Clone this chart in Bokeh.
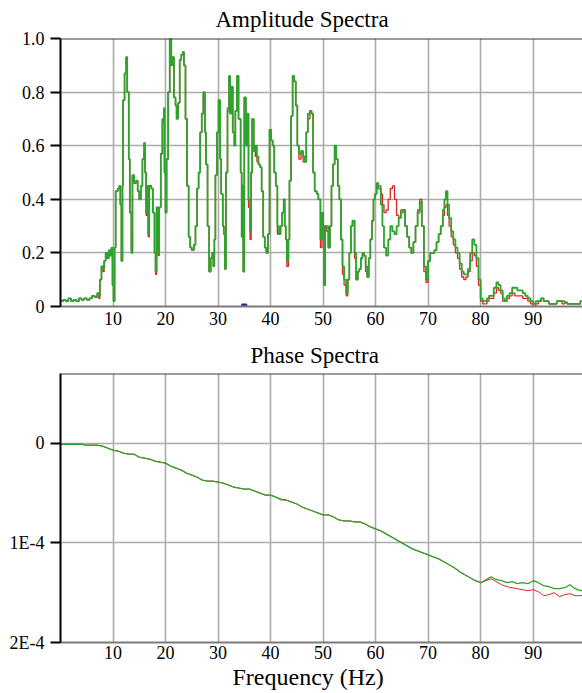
from bokeh.plotting import figure
from bokeh.layouts import column
from bokeh.models import Range1d, FixedTicker, Span, Title
from bokeh.embed import file_html
from bokeh.resources import INLINE

# ---- Amplitude spectra (normalised), stepped, frequencies in Hz ----
amp_freq = [
    0.0, 0.5, 1.0, 1.5, 2.0, 2.5, 3.0, 3.5, 4.0, 4.5, 5.0, 5.5, 6.0, 6.5, 7.0, 7.3, 7.5, 7.8,
    8.1, 8.3, 8.6, 8.9, 9.2, 9.5, 9.7, 9.9, 10.1, 10.3, 10.5, 10.9, 11.2, 11.4, 11.6, 11.8,
    11.9, 12.2, 12.5, 12.7, 13.0, 13.2, 13.5, 13.7, 14.0, 14.4, 14.7, 15.0, 15.3, 15.6, 15.9,
    16.1, 16.3, 16.5, 16.7, 16.9, 17.3, 17.6, 17.9, 18.1, 18.3, 18.6, 18.8, 19.1, 19.4, 19.7,
    19.8, 20.0, 20.2, 20.5, 20.8, 21.1, 21.3, 21.6, 21.9, 22.1, 22.4, 22.7, 23.0, 23.3, 23.5,
    23.8, 24.1, 24.4, 24.7, 25.0, 25.4, 25.7, 26.0, 26.3, 26.6, 26.9, 27.2, 27.5, 27.7, 28.0,
    28.3, 28.6, 28.9, 29.1, 29.3, 29.5, 29.8, 30.1, 30.4, 30.6, 30.9, 31.1, 31.3, 31.5, 31.8,
    32.1, 32.3, 32.5, 32.8, 33.1, 33.3, 33.6, 33.9, 34.1, 34.3, 34.5, 34.7, 34.8, 35.0, 35.3,
    35.5, 35.8, 36.1, 36.3, 36.5, 36.8, 37.1, 37.4, 37.7, 38.0, 38.3, 38.6, 38.9, 39.2, 39.5,
    39.8, 40.1, 40.4, 40.7, 41.0, 41.3, 41.6, 41.9, 42.2, 42.5, 42.7, 42.9, 43.1, 43.4, 43.6,
    43.9, 44.2, 44.5, 44.8, 45.1, 45.4, 45.8, 46.2, 46.5, 46.8, 47.1, 47.5, 47.8, 48.1, 48.4,
    48.8, 49.1, 49.5, 49.8, 50.0, 50.2, 50.4, 50.7, 51.0, 51.3, 51.6, 51.9, 52.2, 52.5, 52.8,
    53.1, 53.4, 53.7, 54.0, 54.4, 54.7, 55.0, 55.3, 55.6, 56.0, 56.3, 56.6, 56.9, 57.2, 57.5,
    57.8, 58.1, 58.4, 58.7, 59.0, 59.3, 59.6, 59.9, 60.2, 60.5, 61.0, 61.3, 61.6, 62.0, 62.4,
    62.8, 63.2, 63.6, 64.0, 64.4, 64.8, 65.2, 65.6, 66.0, 66.4, 66.8, 67.2, 67.6, 68.0, 68.4,
    68.8, 69.2, 69.6, 70.0, 70.4, 70.8, 71.2, 71.6, 72.0, 72.4, 72.8, 73.1, 73.4, 73.7, 74.0,
    74.4, 74.8, 75.2, 75.6, 76.0, 76.4, 76.8, 77.2, 77.6, 78.0, 78.4, 78.8, 79.2, 79.6, 80.0,
    80.4, 80.8, 81.2, 81.6, 82.0, 82.5, 83.0, 83.4, 83.8, 84.2, 84.6, 85.0, 85.5, 86.0, 86.5,
    87.0, 87.5, 88.0, 88.5, 89.0, 89.5, 90.0, 90.5, 91.0, 91.5, 92.0, 92.5, 93.0, 93.5, 94.0,
    94.5, 95.0, 95.5, 96.0, 96.5, 97.0, 98.0, 99.0, 100.0,
]
amp_green = [
    0.02, 0.025, 0.02, 0.03, 0.02, 0.025, 0.02, 0.03, 0.025, 0.03, 0.025, 0.03, 0.04, 0.035, 0.05, 0.04, 0.10, 0.15,
    0.14, 0.17, 0.20, 0.18, 0.21, 0.19, 0.22, 0.08, 0.02, 0.22, 0.43, 0.44, 0.45, 0.38, 0.17, 0.45,
    0.77, 0.87, 0.93, 0.80, 0.55, 0.35, 0.20, 0.49, 0.46, 0.47, 0.43, 0.40, 0.45, 0.55, 0.61,
    0.50, 0.35, 0.45, 0.27, 0.45, 0.44, 0.35, 0.20, 0.13, 0.37, 0.20, 0.37, 0.57, 0.70, 0.74,
    0.50, 0.35, 0.55, 0.80, 1.00, 0.90, 0.93, 0.78, 0.75, 0.70, 0.76, 0.92, 0.94, 0.95, 0.90,
    0.70, 0.45, 0.26, 0.22, 0.21, 0.23, 0.30, 0.44, 0.50, 0.65, 0.72, 0.80, 0.65, 0.53, 0.30,
    0.13, 0.18, 0.20, 0.15, 0.25, 0.49, 0.65, 0.77, 0.55, 0.42, 0.30, 0.27, 0.14, 0.50, 0.74,
    0.86, 0.72, 0.82, 0.65, 0.60, 0.73, 0.86, 0.70, 0.70, 0.50, 0.26, 0.45, 0.13, 0.78, 0.60,
    0.72, 0.40, 0.28, 0.50, 0.70, 0.58, 0.60, 0.56, 0.53, 0.52, 0.43, 0.26, 0.22, 0.20, 0.27,
    0.66, 0.62, 0.60, 0.50, 0.45, 0.30, 0.27, 0.30, 0.35, 0.40, 0.30, 0.25, 0.17, 0.25, 0.47,
    0.71, 0.86, 0.84, 0.75, 0.60, 0.57, 0.58, 0.56, 0.54, 0.65, 0.72, 0.73, 0.72, 0.50, 0.43,
    0.42, 0.40, 0.25, 0.35, 0.30, 0.08, 0.30, 0.30, 0.22, 0.30, 0.45, 0.53, 0.60, 0.55, 0.45,
    0.40, 0.25, 0.15, 0.10, 0.05, 0.10, 0.20, 0.30, 0.32, 0.20, 0.10, 0.13, 0.14, 0.18, 0.20,
    0.19, 0.15, 0.11, 0.18, 0.25, 0.32, 0.40, 0.42, 0.46, 0.44, 0.38, 0.30, 0.22, 0.19, 0.25,
    0.30, 0.28, 0.27, 0.30, 0.33, 0.35, 0.36, 0.30, 0.26, 0.22, 0.20, 0.24, 0.30, 0.35, 0.39,
    0.30, 0.15, 0.10, 0.17, 0.20, 0.20, 0.21, 0.24, 0.27, 0.30, 0.36, 0.40, 0.43, 0.38, 0.33,
    0.28, 0.25, 0.22, 0.20, 0.16, 0.13, 0.12, 0.12, 0.14, 0.20, 0.25, 0.23, 0.18, 0.10, 0.03,
    0.02, 0.02, 0.03, 0.04, 0.04, 0.07, 0.09, 0.08, 0.06, 0.03, 0.02, 0.04, 0.05, 0.07, 0.07,
    0.06, 0.06, 0.05, 0.04, 0.03, 0.02, 0.01, 0.02, 0.02, 0.03, 0.02, 0.02, 0.01, 0.01, 0.01,
    0.02, 0.02, 0.02, 0.015, 0.01, 0.01, 0.01, 0.02, 0.02,
]
amp_red = [
    0.02, 0.025, 0.02, 0.03, 0.02, 0.025, 0.02, 0.03, 0.025, 0.03, 0.025, 0.03, 0.04, 0.035, 0.05, 0.03, 0.10, 0.15,
    0.13, 0.17, 0.20, 0.18, 0.20, 0.19, 0.22, 0.08, 0.02, 0.22, 0.43, 0.44, 0.45, 0.38, 0.17, 0.45,
    0.77, 0.87, 0.93, 0.80, 0.55, 0.35, 0.21, 0.49, 0.46, 0.47, 0.43, 0.40, 0.45, 0.55, 0.58,
    0.50, 0.34, 0.45, 0.26, 0.45, 0.44, 0.35, 0.20, 0.12, 0.37, 0.19, 0.37, 0.57, 0.69, 0.74,
    0.50, 0.35, 0.55, 0.80, 1.00, 0.90, 0.93, 0.78, 0.75, 0.72, 0.76, 0.92, 0.94, 0.95, 0.90,
    0.70, 0.45, 0.26, 0.22, 0.21, 0.23, 0.30, 0.44, 0.50, 0.65, 0.72, 0.79, 0.65, 0.53, 0.30,
    0.13, 0.18, 0.20, 0.15, 0.25, 0.49, 0.65, 0.77, 0.55, 0.42, 0.30, 0.27, 0.14, 0.50, 0.73,
    0.86, 0.72, 0.82, 0.65, 0.60, 0.73, 0.86, 0.70, 0.70, 0.50, 0.26, 0.45, 0.13, 0.78, 0.60,
    0.72, 0.37, 0.25, 0.50, 0.70, 0.58, 0.56, 0.54, 0.53, 0.52, 0.43, 0.26, 0.22, 0.20, 0.27,
    0.66, 0.62, 0.60, 0.50, 0.45, 0.27, 0.27, 0.30, 0.35, 0.40, 0.30, 0.25, 0.15, 0.25, 0.47,
    0.71, 0.86, 0.84, 0.75, 0.60, 0.55, 0.58, 0.54, 0.54, 0.65, 0.70, 0.73, 0.72, 0.50, 0.43,
    0.42, 0.40, 0.22, 0.35, 0.30, 0.08, 0.30, 0.28, 0.22, 0.30, 0.45, 0.53, 0.58, 0.55, 0.45,
    0.40, 0.25, 0.12, 0.08, 0.04, 0.10, 0.20, 0.30, 0.32, 0.18, 0.10, 0.13, 0.14, 0.18, 0.20,
    0.19, 0.13, 0.11, 0.18, 0.25, 0.32, 0.40, 0.42, 0.46, 0.45, 0.42, 0.38, 0.35, 0.36, 0.40,
    0.44, 0.45, 0.40, 0.34, 0.33, 0.36, 0.36, 0.30, 0.26, 0.22, 0.20, 0.24, 0.30, 0.36, 0.40,
    0.30, 0.13, 0.09, 0.17, 0.20, 0.20, 0.21, 0.24, 0.27, 0.30, 0.34, 0.37, 0.38, 0.34, 0.30,
    0.26, 0.23, 0.20, 0.18, 0.14, 0.11, 0.10, 0.11, 0.13, 0.17, 0.20, 0.19, 0.15, 0.08, 0.02,
    0.01, 0.01, 0.02, 0.03, 0.03, 0.05, 0.07, 0.06, 0.05, 0.02, 0.02, 0.03, 0.04, 0.05, 0.04,
    0.04, 0.04, 0.03, 0.03, 0.02, 0.01, 0.00, 0.01, 0.02, 0.03, 0.02, 0.02, 0.01, 0.01, 0.01,
    0.02, 0.02, 0.01, 0.015, 0.01, 0.01, 0.01, 0.02, 0.02,
]

# ---- Phase spectra, in units of 1E-4 (axis grows downward) ----
phase_freq = list(range(0, 101))
phase_green = [
    0.01, 0.01, 0.01, 0.01, 0.01, 0.02, 0.02, 0.02, 0.03, 0.05,
    0.07, 0.08, 0.10, 0.11, 0.11, 0.14, 0.15, 0.16, 0.18, 0.19,
    0.20, 0.23, 0.25, 0.27, 0.30, 0.32, 0.34, 0.37, 0.38, 0.38,
    0.39, 0.40, 0.42, 0.44, 0.45, 0.46, 0.46, 0.48, 0.50, 0.52,
    0.52, 0.54, 0.56, 0.57, 0.59, 0.61, 0.64, 0.66, 0.68, 0.70,
    0.72, 0.72, 0.74, 0.77, 0.78, 0.78, 0.79, 0.79, 0.81, 0.84,
    0.86, 0.88, 0.91, 0.94, 0.97, 1.00, 1.03, 1.06, 1.08, 1.10,
    1.12, 1.14, 1.16, 1.19, 1.22, 1.25, 1.29, 1.32, 1.35, 1.38,
    1.40, 1.37, 1.34, 1.37, 1.38, 1.40, 1.39, 1.41, 1.40, 1.41,
    1.38, 1.40, 1.43, 1.44, 1.46, 1.46, 1.45, 1.42, 1.46, 1.48,
    1.48,
]
phase_red = [
    0.01, 0.01, 0.01, 0.01, 0.01, 0.02, 0.02, 0.02, 0.03, 0.05,
    0.07, 0.08, 0.10, 0.11, 0.11, 0.14, 0.15, 0.16, 0.18, 0.19,
    0.20, 0.23, 0.25, 0.27, 0.30, 0.32, 0.34, 0.37, 0.38, 0.38,
    0.39, 0.40, 0.42, 0.44, 0.45, 0.46, 0.46, 0.48, 0.50, 0.52,
    0.52, 0.54, 0.57, 0.57, 0.59, 0.61, 0.64, 0.66, 0.68, 0.70,
    0.72, 0.72, 0.74, 0.77, 0.78, 0.78, 0.79, 0.79, 0.81, 0.84,
    0.86, 0.88, 0.91, 0.94, 0.97, 1.00, 1.03, 1.06, 1.08, 1.10,
    1.12, 1.14, 1.16, 1.19, 1.22, 1.25, 1.29, 1.32, 1.35, 1.38,
    1.40, 1.38, 1.36, 1.39, 1.42, 1.44, 1.45, 1.46, 1.47, 1.48,
    1.47, 1.49, 1.53, 1.52, 1.50, 1.54, 1.52, 1.51, 1.53, 1.53,
    1.52,
]

freq_ticks = [10, 20, 30, 40, 50, 60, 70, 80, 90]
amp_ticks = [0.0, 0.2, 0.4, 0.6, 0.8, 1.0]
amp_tick_labels = ["0", "0.2", "0.4", "0.6", "0.8", "1.0"]
phase_ticks = [0, 1, 2]
phase_tick_labels = ["0", "1E-4", "2E-4"]
cursor_freq = [35.0]
cursor_amp = [0.0]

SERIF = "Liberation Serif"
GREEN = "#2ea32e"
RED = "#e02424"
GRID = "#ababab"


def style(p, yticks, ylabels, top_edge):
    p.outline_line_color = None
    p.background_fill_color = "white"
    p.border_fill_color = "white"
    p.grid.grid_line_color = GRID
    p.grid.grid_line_width = 1.6
    p.xaxis.ticker = FixedTicker(ticks=freq_ticks)
    p.yaxis.ticker = FixedTicker(ticks=yticks)
    p.yaxis.major_label_overrides = dict(zip(yticks, ylabels))
    for ax in (p.xaxis[0], p.yaxis[0]):
        ax.major_label_text_font = SERIF
        ax.major_label_text_font_size = "18px"
        ax.major_label_text_color = "black"
        ax.minor_tick_line_color = None
    p.xaxis.axis_line_color = "#7a7a7a"
    p.xaxis.axis_line_width = 2
    p.xaxis.major_tick_line_color = None
    p.xaxis.major_tick_out = 0
    p.xaxis.major_tick_in = 0
    p.yaxis.axis_line_color = "black"
    p.yaxis.axis_line_width = 2
    p.yaxis.major_tick_line_color = "black"
    p.yaxis.major_tick_line_width = 2
    p.yaxis.major_tick_out = 10
    p.yaxis.major_tick_in = 0
    p.yaxis.major_label_standoff = 6
    p.add_layout(Span(location=top_edge, dimension="width",
                      line_color="#3a3a3a", line_width=2))


# ---- top panel: amplitude ----
amp = figure(width=582, height=333, output_backend="svg", toolbar_location=None,
             x_range=Range1d(0, 99.4), y_range=Range1d(0, 1.0),
             min_border_left=60, min_border_right=0, min_border_top=38,
             min_border_bottom=27)
amp.title = Title(text="Amplitude Spectra", align="left", offset=155,
                  text_font=SERIF, text_font_size="23px", text_color="black",
                  text_font_style="normal", standoff=10, text_line_height=0.9,
                  vertical_align="top")
style(amp, amp_ticks, amp_tick_labels, 1.0)
amp.xaxis.major_label_standoff = 5
amp.step(amp_freq, amp_red, mode="after", line_color=RED, line_width=1.3)
amp.step(amp_freq, amp_green, mode="after", line_color=GREEN, line_width=1.8)
amp.scatter(cursor_freq, cursor_amp, marker="square", size=5,
            fill_color="#1c2e9a", line_color="#1c2e9a")

# ---- bottom panel: phase ----
ph = figure(width=582, height=360, output_backend="svg", toolbar_location=None,
            x_range=Range1d(0, 99.4), y_range=Range1d(2.0, -0.7),
            min_border_left=58, min_border_right=0, min_border_top=40,
            min_border_bottom=51)
ph.title = Title(text="Phase Spectra", align="left", offset=190,
                 text_font=SERIF, text_font_size="23px", text_color="black",
                 text_font_style="normal", standoff=11, text_line_height=0.8)
style(ph, phase_ticks, phase_tick_labels, -0.7)
ph.xaxis.major_label_standoff = 3
ph.add_layout(Title(text="Frequency (Hz)", align="left", offset=172,
                    text_font=SERIF, text_font_size="24px", text_color="black",
                    text_font_style="normal", standoff=0, text_line_height=0.8),
              "below")
ph.line(phase_freq, phase_red, line_color=RED, line_width=1.0)
ph.line(phase_freq, phase_green, line_color=GREEN, line_width=1.3)

layout = column(amp, ph, spacing=0)
open("out.html", "w").write(file_html(layout, INLINE))
